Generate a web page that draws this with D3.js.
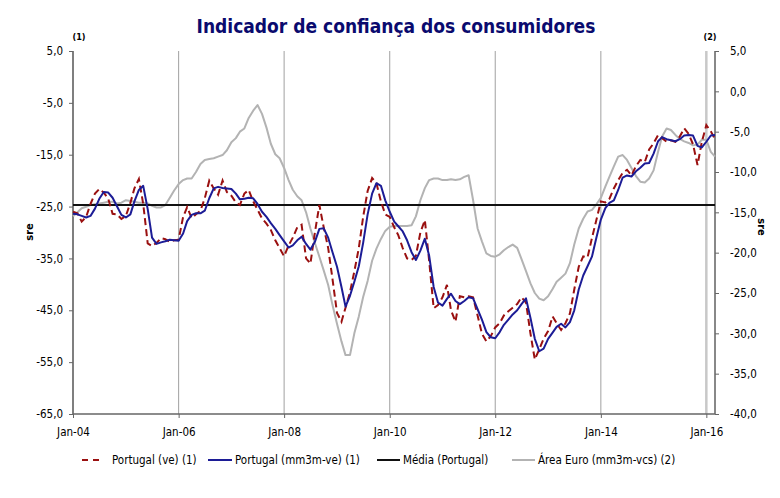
<!DOCTYPE html>
<html><head><meta charset="utf-8">
<script src="https://cdn.jsdelivr.net/npm/d3@7"></script>
<style>
body{margin:0;background:#fff;}
text{font-family:"DejaVu Sans Condensed","DejaVu Sans",sans-serif;}
</style></head>
<body><svg id="c" width="780" height="498"></svg>
<script>
// ---- data (monthly, Jan-04 .. Mar-16) ----
const startYear = 2004, startMonth = 0, nMonths = 147;
const portugalVe = [
-26.0,-26.3,-27.9,-27.0,-24.5,-22.5,-21.6,-22.3,-23.5,-26.4,
-26.5,-27.4,-26.8,-24.3,-21.5,-19.7,-24.5,-32.1,-32.6,-32.0,
-31.1,-31.3,-31.8,-31.5,-31.4,-27.0,-25.1,-27.2,-26.5,-25.8,
-23.4,-20.0,-21.5,-22.7,-20.0,-22.2,-22.9,-24.2,-24.7,-22.5,
-21.8,-24.0,-25.6,-27.3,-28.3,-29.5,-31.5,-33.0,-34.6,-32.5,
-31.0,-29.0,-28.5,-35.0,-36.0,-30.0,-24.7,-29.0,-33.0,-39.0,
-45.5,-47.2,-44.5,-41.5,-37.5,-33.0,-27.0,-22.0,-19.5,-20.5,
-24.0,-26.5,-27.0,-29.0,-30.5,-33.0,-35.0,-35.3,-34.5,-30.0,
-27.6,-35.5,-44.6,-44.0,-42.5,-40.1,-45.0,-47.2,-42.3,-42.5,
-42.3,-42.5,-46.0,-49.5,-51.0,-50.0,-48.3,-47.5,-46.0,-45.2,
-44.5,-43.8,-42.5,-43.5,-49.5,-54.5,-52.5,-50.5,-49.0,-46.2,
-47.5,-48.8,-47.5,-45.6,-41.0,-36.6,-34.6,-34.8,-31.0,-27.6,
-24.0,-24.2,-23.5,-21.5,-19.9,-18.5,-17.9,-19.0,-17.2,-16.0,
-16.4,-14.0,-12.8,-11.2,-11.8,-12.5,-12.2,-12.5,-11.5,-9.9,
-11.0,-13.0,-17.0,-12.5,-9.3,-10.5,-12.0];
const portugalMm3m = [
-26.4,-26.5,-26.8,-27.1,-26.8,-25.4,-23.5,-22.2,-22.3,-23.3,
-25.0,-26.6,-27.1,-26.5,-24.0,-21.8,-21.0,-25.5,-31.0,-32.2,
-31.9,-31.7,-31.4,-31.5,-31.6,-30.2,-27.8,-26.6,-26.3,-26.3,
-25.8,-23.4,-21.5,-21.2,-21.4,-21.5,-21.6,-22.5,-23.6,-23.5,
-23.3,-23.4,-24.5,-26.0,-27.0,-28.2,-29.3,-30.5,-31.7,-32.9,
-32.5,-31.5,-30.8,-32.2,-33.3,-31.8,-29.3,-29.2,-31.0,-33.8,
-36.6,-40.5,-44.3,-42.2,-39.5,-36.5,-32.0,-26.5,-22.5,-20.5,
-21.0,-23.8,-26.0,-27.9,-28.8,-29.8,-31.5,-33.8,-35.3,-33.5,
-31.2,-34.5,-40.5,-43.5,-44.1,-42.8,-41.8,-43.2,-43.8,-43.2,
-42.5,-42.7,-44.8,-46.8,-49.2,-50.2,-50.4,-49.2,-47.8,-46.8,
-45.8,-45.0,-43.8,-42.7,-46.5,-50.5,-52.9,-52.4,-50.5,-49.3,
-48.2,-47.6,-48.3,-47.3,-45.0,-41.0,-38.3,-36.5,-34.6,-31.0,
-27.5,-25.3,-24.3,-23.8,-21.8,-19.4,-19.0,-19.2,-18.2,-17.5,
-16.7,-16.6,-14.8,-12.4,-11.6,-12.0,-12.2,-12.4,-12.0,-11.3,
-11.2,-11.3,-13.3,-13.6,-12.5,-11.3,-11.2];
const mediaPortugal = -24.7;
const areaEuro = [
-15.5,-15.0,-14.5,-14.3,-14.1,-14.0,-13.9,-13.8,-13.7,-13.7,
-13.9,-13.8,-13.5,-13.6,-13.7,-13.8,-13.8,-13.9,-14.2,-14.4,
-14.4,-14.1,-13.2,-12.3,-11.5,-11.0,-10.8,-10.8,-10.0,-9.0,
-8.5,-8.4,-8.3,-8.1,-7.9,-7.3,-6.3,-5.8,-5.0,-4.6,
-3.3,-2.4,-1.7,-2.8,-4.5,-6.5,-7.8,-8.3,-9.5,-11.0,
-12.2,-13.0,-13.5,-15.0,-17.0,-18.8,-20.5,-22.2,-24.0,-26.5,
-28.8,-31.0,-32.7,-32.7,-30.0,-27.9,-25.5,-23.5,-21.0,-19.5,
-18.3,-17.3,-16.8,-16.7,-16.7,-16.7,-16.7,-16.6,-15.5,-13.5,
-12.0,-11.0,-10.8,-10.8,-11.0,-11.0,-10.9,-11.0,-10.9,-10.6,
-10.4,-13.5,-17.0,-18.6,-20.1,-20.4,-20.5,-20.2,-19.7,-19.3,
-19.0,-19.4,-20.8,-22.3,-23.8,-25.0,-25.7,-25.9,-25.4,-24.5,
-23.6,-23.1,-22.6,-21.3,-19.0,-17.0,-15.8,-14.9,-14.7,-14.0,
-13.2,-11.8,-10.6,-9.3,-8.1,-7.9,-8.5,-9.5,-10.5,-11.2,
-11.3,-10.8,-9.8,-7.5,-5.6,-4.6,-4.8,-5.4,-5.9,-6.2,
-6.4,-6.7,-6.6,-6.0,-6.0,-7.5,-8.1];
const leftTicks = [5,-5,-15,-25,-35,-45,-55,-65];
const rightTicks = [5,0,-5,-10,-15,-20,-25,-30,-35,-40];
const xTickYears = [2004,2006,2008,2010,2012,2014,2016];
const titleText = "Indicador de confiança dos consumidores";
const leftAxisTitle = "sre", rightAxisTitle = "sre";
const legendLabels = ["Portugal (ve) (1)","Portugal (mm3m-ve) (1)","Média (Portugal)","Área Euro (mm3m-vcs) (2)"];

// ---- layout ----
const L = 73, R = 715, T = 51, B = 414;
const svg = d3.select("#c");
const dates = d3.range(nMonths).map(i => new Date(startYear, startMonth + i, 1));
const x = d3.scaleTime().domain([dates[0], dates[nMonths-1]]).range([L, R]);
const yL = d3.scaleLinear().domain([-65, 5]).range([B, T]);
const yR = d3.scaleLinear().domain([-40, 5]).range([B, T]);
const fmt = v => v.toFixed(1).replace(".", ",");
const xTicks = xTickYears.map(y => new Date(y, 0, 1));

// gridlines
svg.append("g").selectAll("line").data(xTicks.slice(1)).join("line")
  .attr("x1", d => x(d)).attr("x2", d => x(d)).attr("y1", T).attr("y2", B)
  .attr("stroke", d => d.getFullYear() === 2016 ? "#c8c8c8" : "#a0a0a0")
  .attr("stroke-width", d => d.getFullYear() === 2016 ? 2.5 : 1);

// axes
const gL = svg.append("g").attr("transform", `translate(${L},0)`)
  .call(d3.axisLeft(yL).tickValues(leftTicks).tickFormat(fmt).tickSize(4).tickPadding(6));
const gR = svg.append("g").attr("transform", `translate(${R},0)`)
  .call(d3.axisRight(yR).tickValues(rightTicks).tickFormat(fmt).tickSize(4).tickPadding(11));
const gX = svg.append("g").attr("transform", `translate(0,${B})`)
  .call(d3.axisBottom(x).tickValues(xTicks).tickFormat(d3.timeFormat("%b-%y")).tickSize(4).tickPadding(10));
[gL, gR, gX].forEach(g => {
  g.selectAll("text").attr("font-size", 11.5).attr("fill", "#000")
    .attr("font-family", '"DejaVu Sans Condensed","DejaVu Sans",sans-serif');
  g.selectAll("line").attr("stroke", "#666");
  g.select(".domain").attr("stroke", "#666").attr("stroke-width", 1.5);
});
gL.select(".domain").attr("d", `M0,${T}V${B}`).attr("stroke", "#555");
gR.select(".domain").attr("d", `M0,${T}V${B}`).attr("stroke", "#888").attr("stroke-width", 2);
gX.select(".domain").attr("d", `M${L},0H${R}`);

// series
const lineL = d3.line().x((d, i) => x(dates[i])).y(d => yL(d));
const lineR = d3.line().x((d, i) => x(dates[i])).y(d => yR(d));
svg.append("path").datum(areaEuro).attr("d", lineR)
  .attr("fill", "none").attr("stroke", "#b3b3b3").attr("stroke-width", 2).attr("stroke-linejoin", "round");
svg.append("path").datum(dates.map(() => mediaPortugal)).attr("d", lineL)
  .attr("fill", "none").attr("stroke", "#111").attr("stroke-width", 2);
svg.append("path").datum(portugalVe).attr("d", lineL)
  .attr("fill", "none").attr("stroke", "#9a1010").attr("stroke-width", 2).attr("stroke-dasharray", "7,4");
svg.append("path").datum(portugalMm3m).attr("d", lineL)
  .attr("fill", "none").attr("stroke", "#1c1c96").attr("stroke-width", 2).attr("stroke-linejoin", "round");

// titles
svg.append("text").attr("x", 396).attr("y", 33).attr("text-anchor", "middle")
  .attr("font-size", 19).attr("font-weight", "bold").attr("fill", "#0a0a6e").text(titleText);
svg.append("text").attr("x", 79).attr("y", 40).attr("text-anchor", "middle")
  .attr("font-size", 9).attr("font-weight", "bold").text("(1)");
svg.append("text").attr("x", 710).attr("y", 40).attr("text-anchor", "middle")
  .attr("font-size", 9).attr("font-weight", "bold").text("(2)");
svg.append("text").attr("transform", "translate(33,232) rotate(-90)").attr("text-anchor", "middle")
  .attr("font-size", 11).attr("font-weight", "bold").text(leftAxisTitle);
svg.append("text").attr("transform", "translate(758,227) rotate(90)").attr("text-anchor", "middle")
  .attr("font-size", 11).attr("font-weight", "bold").text(rightAxisTitle);

// legend
const legend = [
  {x1: 82, x2: 104, tx: 112, color: "#9a1010", dash: "6,5"},
  {x1: 208, x2: 232, tx: 235, color: "#1c1c96", dash: null},
  {x1: 377, x2: 400, tx: 403, color: "#111", dash: null},
  {x1: 512, x2: 535, tx: 538, color: "#b3b3b3", dash: null}
];
const lg = svg.append("g");
legend.forEach((d, i) => {
  lg.append("line").attr("x1", d.x1).attr("x2", d.x2).attr("y1", 460).attr("y2", 460)
    .attr("stroke", d.color).attr("stroke-width", 2).attr("stroke-dasharray", d.dash);
  lg.append("text").attr("x", d.tx).attr("y", 464).attr("font-size", 11.5).text(legendLabels[i]);
});
</script></body></html>
